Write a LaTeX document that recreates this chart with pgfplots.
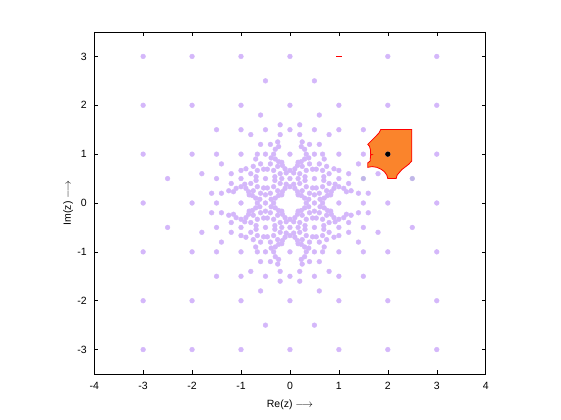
\documentclass[border=0pt]{standalone}
\usepackage{fontspec}
\setmainfont{Liberation Sans}
\usepackage{pgfplots}
\pgfplotsset{compat=1.18}
\definecolor{lav}{RGB}{212,183,250}
\definecolor{lavgray}{RGB}{192,182,232}
\definecolor{cellfill}{RGB}{250,132,44}

\begin{document}
\begin{tikzpicture}
\useasboundingbox (0,0) rectangle (561bp,420bp);
\begin{axis}[
  at={(94.2bp,46bp)}, anchor=south west, scale only axis,
  width=391.5bp, height=342bp,
  xmin=-4, xmax=4, ymin=-3.5, ymax=3.5,
  xtick={-4,...,4}, ytick={-3,...,3},
  xticklabels={-4,-3,-2,-1,0,1,2,3,4},
  yticklabels={-3,-2,-1,0,1,2,3},
  tick align=inside, major tick length=4bp,
  tick style={black, line width=0.5bp},
  axis line style={line width=0.5bp},
  ticklabel style={font=\fontsize{10.5bp}{12bp}\selectfont},
  xticklabel style={anchor=base, yshift=-15bp},
  yticklabel style={xshift=-4bp},
  xlabel={Re(z) $\longrightarrow$},
  ylabel={Im(z) $\longrightarrow$},
  label style={font=\fontsize{10.5bp}{12bp}\selectfont},
  xlabel style={at={(axis description cs:0.5,0)}, anchor=base, yshift=-33bp},
  ylabel style={at={(axis description cs:-0.0593,0.5)}, anchor=base},
  clip=false]

% integer, diagonal and axis points
\addplot[only marks, mark=*, mark size=2.4bp, color=lav] coordinates {
(0.3333,0) (-0.3333,0) (0,0.3333) (0,-0.3333)
(0.5,0) (-0.5,0) (0,0.5) (0,-0.5)
(0.6667,0) (-0.6667,0) (0,0.6667) (0,-0.6667)
(1,0) (-1,0) (0,1) (0,-1)
(1.5,0) (-1.5,0) (0,1.5) (0,-1.5)
(2,0) (-2,0) (0,2) (0,-2)
(3,0) (-3,0) (0,3) (0,-3)
(0.1667,0.1667) (-0.1667,0.1667) (0.1667,-0.1667) (-0.1667,-0.1667)
(0.25,0.25) (-0.25,0.25) (0.25,-0.25) (-0.25,-0.25)
(0.3333,0.3333) (-0.3333,0.3333) (0.3333,-0.3333) (-0.3333,-0.3333)
(0.5,0.5) (-0.5,0.5) (0.5,-0.5) (-0.5,-0.5)
(0.6667,0.6667) (-0.6667,0.6667) (0.6667,-0.6667) (-0.6667,-0.6667)
(0.75,0.75) (-0.75,0.75) (0.75,-0.75) (-0.75,-0.75)
(1,1) (-1,1) (1,-1) (-1,-1)
(1.5,1.5) (-1.5,1.5) (1.5,-1.5) (-1.5,-1.5)
(2,2) (-2,2) (2,-2) (-2,-2)
(3,3) (-3,3) (3,-3) (-3,-3)
};

% the other points
\addplot[only marks, mark=*, mark size=2.4bp, color=lav] coordinates {
(2,1) (-2,1) (2,-1) (-2,-1) (1,2) (-1,2) (1,-2) (-1,-2)
(3,1) (-3,1) (3,-1) (-3,-1) (-1,3) (1,-3) (-1,-3)
(3,2) (-3,2) (3,-2) (-3,-2) (2,3) (-2,3) (2,-3) (-2,-3)
(1,0.5) (-1,0.5) (1,-0.5) (-1,-0.5) (0.5,1) (-0.5,1) (0.5,-1) (-0.5,-1)
(-1.5,0.5) (1.5,-0.5) (-1.5,-0.5) (0.5,1.5) (-0.5,1.5) (0.5,-1.5) (-0.5,-1.5)
(1.5,1) (-1.5,1) (1.5,-1) (-1.5,-1) (1,1.5) (-1,1.5) (1,-1.5) (-1,-1.5)
(0.6667,0.3333) (-0.6667,0.3333) (0.6667,-0.3333) (-0.6667,-0.3333) (0.3333,0.6667) (-0.3333,0.6667) (0.3333,-0.6667) (-0.3333,-0.6667)
(1,0.3333) (-1,0.3333) (1,-0.3333) (-1,-0.3333) (0.3333,1) (-0.3333,1) (0.3333,-1) (-0.3333,-1)
(1,0.6667) (-1,0.6667) (1,-0.6667) (-1,-0.6667) (0.6667,1) (-0.6667,1) (0.6667,-1) (-0.6667,-1)
(-2.5,0.5) (2.5,-0.5) (-2.5,-0.5) (0.5,2.5) (-0.5,2.5) (0.5,-2.5) (-0.5,-2.5)
(0.75,0.25) (-0.75,0.25) (0.75,-0.25) (-0.75,-0.25) (0.25,0.75) (-0.25,0.75) (0.25,-0.75) (-0.25,-0.75)
(1.25,0.25) (-1.25,0.25) (1.25,-0.25) (-1.25,-0.25) (0.25,1.25) (-0.25,1.25) (0.25,-1.25) (-0.25,-1.25)
(0.5,0.1667) (-0.5,0.1667) (0.5,-0.1667) (-0.5,-0.1667) (0.1667,0.5) (-0.1667,0.5) (0.1667,-0.5) (-0.1667,-0.5)
(0.8333,0.1667) (-0.8333,0.1667) (0.8333,-0.1667) (-0.8333,-0.1667) (0.1667,0.8333) (-0.1667,0.8333) (0.1667,-0.8333) (-0.1667,-0.8333)
(0.4,0.2) (-0.4,0.2) (0.4,-0.2) (-0.4,-0.2) (0.2,0.4) (-0.2,0.4) (0.2,-0.4) (-0.2,-0.4)
(0.6,0.2) (-0.6,0.2) (0.6,-0.2) (-0.6,-0.2) (0.2,0.6) (-0.2,0.6) (0.2,-0.6) (-0.2,-0.6)
(0.8,0.4) (-0.8,0.4) (0.8,-0.4) (-0.8,-0.4) (0.4,0.8) (-0.4,0.8) (0.4,-0.8) (-0.4,-0.8)
(0.8,0.6) (-0.8,0.6) (0.8,-0.6) (-0.8,-0.6) (0.6,0.8) (-0.6,0.8) (0.6,-0.8) (-0.6,-0.8)
(1.2,0.4) (-1.2,0.4) (1.2,-0.4) (-1.2,-0.4) (0.4,1.2) (-0.4,1.2) (0.4,-1.2) (-0.4,-1.2)
(1.6,0.2) (-1.6,0.2) (1.6,-0.2) (-1.6,-0.2) (0.2,1.6) (-0.2,1.6) (0.2,-1.6) (-0.2,-1.6)
(1.4,0.2) (-1.4,0.2) (1.4,-0.2) (-1.4,-0.2) (0.2,1.4) (-0.2,1.4) (0.2,-1.4) (-0.2,-1.4)
(1.2,0.6) (-1.2,0.6) (1.2,-0.6) (-1.2,-0.6) (0.6,1.2) (-0.6,1.2) (0.6,-1.2) (-0.6,-1.2)
(1.4,0.8) (-1.4,0.8) (1.4,-0.8) (-1.4,-0.8) (0.8,1.4) (-0.8,1.4) (0.8,-1.4) (-0.8,-1.4)
(1.8,0.6) (-1.8,0.6) (1.8,-0.6) (-1.8,-0.6) (0.6,1.8) (-0.6,1.8) (0.6,-1.8) (-0.6,-1.8)
(0.3,0.1) (-0.3,0.1) (0.3,-0.1) (-0.3,-0.1) (0.1,0.3) (-0.1,0.3) (0.1,-0.3) (-0.1,-0.3)
(0.7,0.1) (-0.7,0.1) (0.7,-0.1) (-0.7,-0.1) (0.1,0.7) (-0.1,0.7) (0.1,-0.7) (-0.1,-0.7)
(1.1,0.3) (-1.1,0.3) (1.1,-0.3) (-1.1,-0.3) (0.3,1.1) (-0.3,1.1) (0.3,-1.1) (-0.3,-1.1)
(0.9,0.3) (-0.9,0.3) (0.9,-0.3) (-0.9,-0.3) (0.3,0.9) (-0.3,0.9) (0.3,-0.9) (-0.3,-0.9)
(0.9,0.7) (-0.9,0.7) (0.9,-0.7) (-0.9,-0.7) (0.7,0.9) (-0.7,0.9) (0.7,-0.9) (-0.7,-0.9)
(0.231,0.154) (-0.231,0.154) (0.231,-0.154) (-0.231,-0.154) (0.154,0.231) (-0.154,0.231) (0.154,-0.231) (-0.154,-0.231)
(0.385,0.077) (-0.385,0.077) (0.385,-0.077) (-0.385,-0.077) (0.077,0.385) (-0.077,0.385) (0.077,-0.385) (-0.077,-0.385)
(0.615,0.077) (-0.615,0.077) (0.615,-0.077) (-0.615,-0.077) (0.077,0.615) (-0.077,0.615) (0.077,-0.615) (-0.077,-0.615)
(0.462,0.308) (-0.462,0.308) (0.462,-0.308) (-0.462,-0.308) (0.308,0.462) (-0.308,0.462) (0.308,-0.462) (-0.308,-0.462)
(0.538,0.308) (-0.538,0.308) (0.538,-0.308) (-0.538,-0.308) (0.308,0.538) (-0.308,0.538) (0.308,-0.538) (-0.308,-0.538)
(0.769,0.154) (-0.769,0.154) (0.769,-0.154) (-0.769,-0.154) (0.154,0.769) (-0.154,0.769) (0.154,-0.769) (-0.154,-0.769)
(0.846,0.231) (-0.846,0.231) (0.846,-0.231) (-0.846,-0.231) (0.231,0.846) (-0.231,0.846) (0.231,-0.846) (-0.231,-0.846)
(0.692,0.462) (-0.692,0.462) (0.692,-0.462) (-0.692,-0.462) (0.462,0.692) (-0.462,0.692) (0.462,-0.692) (-0.462,-0.692)
(0.692,0.538) (-0.692,0.538) (0.692,-0.538) (-0.692,-0.538) (0.538,0.692) (-0.538,0.692) (0.538,-0.692) (-0.538,-0.692)
(0.923,0.385) (-0.923,0.385) (0.923,-0.385) (-0.923,-0.385) (0.385,0.923) (-0.385,0.923) (0.385,-0.923) (-0.385,-0.923)
(1.154,0.231) (-1.154,0.231) (1.154,-0.231) (-1.154,-0.231) (0.231,1.154) (-0.231,1.154) (0.231,-1.154) (-0.231,-1.154)
};

% greyer points beside the cell
\addplot[only marks, mark=*, mark size=2.4bp, color=lavgray] coordinates {(1.5,0.5) (2.5,0.5)};

% cell round 2+i
\addplot[fill=cellfill, draw=red, line width=0.8bp] coordinates {
(1.857,1.505) (2.49,1.505) (2.49,0.862) (2.43,0.795) (2.36,0.74) (2.29,0.686)
(2.24,0.63) (2.19,0.57) (2.17,0.50) (2.0,0.50) (1.98,0.57) (1.93,0.64)
(1.865,0.69) (1.775,0.73) (1.68,0.745) (1.59,0.73) (1.59,0.82) (1.64,0.86)
(1.647,0.98) (1.68,0.99) (1.647,1.0) (1.647,1.08) (1.626,1.16) (1.59,1.20)
(1.68,1.29) (1.76,1.37) (1.82,1.435)
} -- cycle;

\addplot[only marks, mark=*, mark size=2.4bp, color=black] coordinates {(2,1)};
\addplot[red, line width=1.2bp] coordinates {(0.945,3) (1.055,3)};
\end{axis}
\end{tikzpicture}
\end{document}
